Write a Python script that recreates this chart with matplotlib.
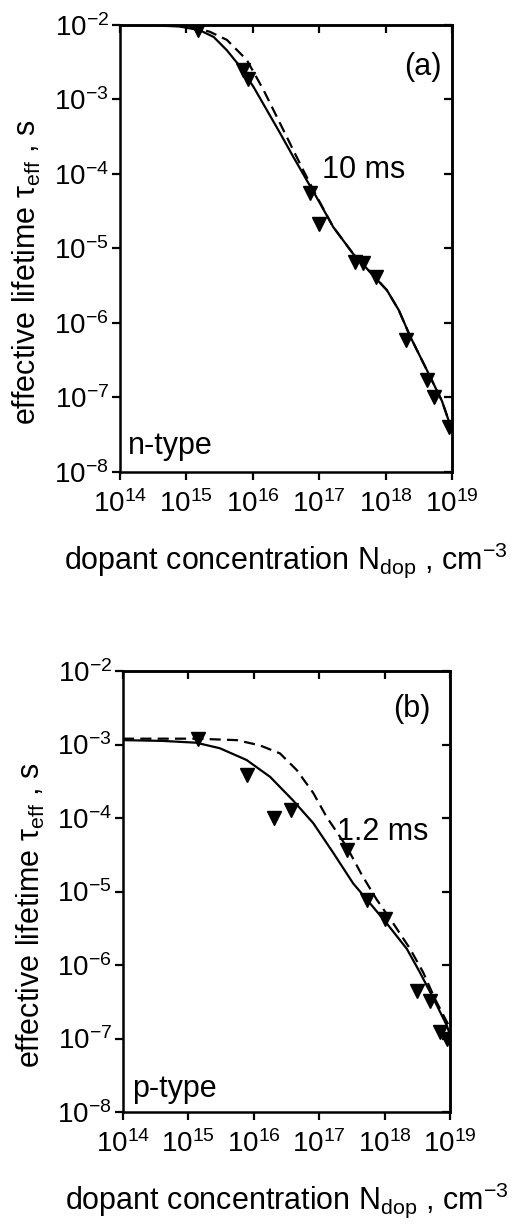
import numpy as np
import matplotlib
matplotlib.use("Agg")
import matplotlib.pyplot as plt
from matplotlib.ticker import LogLocator, NullLocator

plt.rcParams['font.family'] = ['Liberation Sans', 'DejaVu Sans']
plt.rcParams['mathtext.fontset'] = 'custom'
plt.rcParams['mathtext.rm'] = 'Liberation Sans'
plt.rcParams['mathtext.it'] = 'Liberation Sans:italic'
plt.rcParams['mathtext.default'] = 'regular'

# panel (a), n-type: log10 values
a_pts_x = [15.17, 15.85, 15.93, 16.86, 17.00, 17.54, 17.66, 17.85, 18.31, 18.63, 18.73, 18.96]
a_pts_y = [-2.07, -2.60, -2.72, -4.26, -4.67, -5.18, -5.20, -5.38, -6.23, -6.77, -6.99, -7.39]
a_solid_x = [14.0, 14.5, 14.9, 15.2, 15.41, 15.61, 15.81, 16.01, 16.21, 16.41, 16.61, 16.81,
             17.01, 17.21, 17.51, 17.75, 18.02, 18.2, 18.37, 18.52, 18.67, 18.85, 19.0]
a_solid_y = [-2.00, -2.005, -2.02, -2.07, -2.16, -2.34, -2.56, -2.83, -3.14, -3.45, -3.77, -4.08,
             -4.39, -4.71, -5.07, -5.30, -5.56, -5.83, -6.18, -6.45, -6.72, -7.05, -7.44]
a_dash_x = [14.0, 14.5, 15.05, 15.35, 15.61, 15.91, 16.16, 16.36, 16.56, 16.76, 16.95, 17.21,
            17.51, 17.75, 18.02, 18.2, 18.37, 18.52, 18.67, 18.85, 19.0]
a_dash_y = [-2.00, -2.00, -2.02, -2.09, -2.20, -2.47, -2.87, -3.23, -3.59, -3.95, -4.28, -4.71,
            -5.07, -5.30, -5.56, -5.83, -6.18, -6.45, -6.72, -7.05, -7.44]

# panel (b), p-type
b_pts_x = [15.15, 15.89, 16.31, 16.57, 17.43, 17.73, 18.01, 18.50, 18.69, 18.85, 18.95]
b_pts_y = [-2.93, -3.41, -4.00, -3.89, -4.44, -5.11, -5.38, -6.35, -6.49, -6.91, -7.01]
b_solid_x = [14.0, 14.6, 15.12, 15.48, 15.89, 16.25, 16.6, 16.91, 17.22, 17.52, 17.73,
             18.03, 18.34, 18.54, 18.75, 18.95, 19.0]
b_solid_y = [-2.94, -2.95, -2.975, -3.05, -3.21, -3.44, -3.76, -4.07, -4.48, -4.89, -5.11,
             -5.43, -5.78, -6.10, -6.46, -6.82, -6.95]
b_dash_x = [14.0, 15.12, 15.74, 16.09, 16.40, 16.66, 16.91, 17.11, 17.42, 17.65, 17.88,
            18.13, 18.39, 18.59, 18.77, 18.95, 19.0]
b_dash_y = [-2.92, -2.92, -2.94, -3.01, -3.12, -3.35, -3.66, -3.98, -4.39, -4.77, -5.11,
            -5.43, -5.78, -6.10, -6.46, -6.77, -6.85]

panels = [
    dict(rect=[0.2344, 0.6147, 0.6484, 0.3649], pts=(a_pts_x, a_pts_y),
         solid=(a_solid_x, a_solid_y), dash=(a_dash_x, a_dash_y),
         tag='(a)', tag_xy=(0.97, 0.907), fit='10 ms', fit_xy=(0.607, 0.676),
         kind='n-type', kind_xy=(0.024, 0.058)),
    dict(rect=[0.2402, 0.0922, 0.6387, 0.3600], pts=(b_pts_x, b_pts_y),
         solid=(b_solid_x, b_solid_y), dash=(b_dash_x, b_dash_y),
         tag='(b)', tag_xy=(0.94, 0.915), fit='1.2 ms', fit_xy=(0.655, 0.635),
         kind='p-type', kind_xy=(0.028, 0.052)),
]

fig = plt.figure(figsize=(5.12, 12.25), dpi=100)

for p in panels:
    ax = fig.add_axes(p['rect'])
    sx, sy = p['solid']
    dx, dy = p['dash']
    px, py = p['pts']
    ax.plot(10 ** np.array(sx), 10 ** np.array(sy), color='black', lw=1.6)
    ax.plot(10 ** np.array(dx), 10 ** np.array(dy), color='black', lw=1.6, dashes=(5, 2.8))
    ax.plot(10 ** np.array(px), 10 ** np.array(py), 'v', color='black', ms=10, mec='black')
    ax.set_xscale('log')
    ax.set_yscale('log')
    ax.set_xlim(1e14, 1e19)
    ax.set_ylim(1e-8, 1e-2)
    ax.xaxis.set_major_locator(LogLocator(base=10, numticks=10))
    ax.yaxis.set_major_locator(LogLocator(base=10, numticks=10))
    ax.xaxis.set_minor_locator(NullLocator())
    ax.yaxis.set_minor_locator(NullLocator())
    for s in ax.spines.values():
        s.set_linewidth(1.8)
    ax.tick_params(axis='both', which='major', labelsize=20, length=6, width=1.6, direction='out',
                   top=False, right=False, pad=2)
    ax.tick_params(axis='x', pad=7)
    # mirrored inward ticks on top and right
    sec_x = ax.secondary_xaxis('top')
    sec_x.xaxis.set_major_locator(LogLocator(base=10, numticks=10))
    sec_x.xaxis.set_minor_locator(NullLocator())
    sec_x.tick_params(direction='in', length=6, width=1.6, labeltop=False)
    sec_x.spines['top'].set_linewidth(1.8)
    sec_y = ax.secondary_yaxis('right')
    sec_y.yaxis.set_major_locator(LogLocator(base=10, numticks=10))
    sec_y.yaxis.set_minor_locator(NullLocator())
    sec_y.tick_params(direction='in', length=6, width=1.6, labelright=False)
    sec_y.spines['right'].set_linewidth(1.8)

    ax.set_xlabel('dopant concentration N$_{dop}$ , cm$^{-3}$', fontsize=22, labelpad=16)
    ax.set_ylabel('effective lifetime τ$_{eff}$ , s', fontsize=22)
    ax.yaxis.set_label_coords(-0.232, 0.447)

    ax.text(*p['tag_xy'], p['tag'], transform=ax.transAxes, fontsize=22, ha='right', va='center')
    ax.text(*p['fit_xy'], p['fit'], transform=ax.transAxes, fontsize=22, ha='left', va='center')
    ax.text(*p['kind_xy'], p['kind'], transform=ax.transAxes, fontsize=22, ha='left', va='center')

fig.savefig('out.png', dpi=100)
